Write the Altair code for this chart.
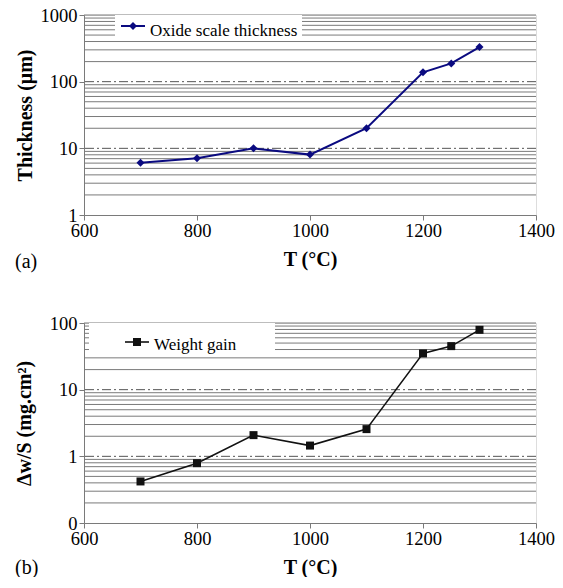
import altair as alt
import pandas as pd

temps = [700, 800, 900, 1000, 1100, 1200, 1250, 1300]
thickness = [6.1, 7.1, 10, 8.05, 20, 138, 188, 330]
weight_gain = [0.42, 0.79, 2.08, 1.45, 2.56, 35, 45, 79]

x_ticks = [600, 800, 1000, 1200, 1400]
top_major = [10, 100]
top_minor = [2, 3, 4, 5, 6, 7, 8, 9, 20, 30, 40, 50, 60, 70, 80, 90,
             200, 300, 400, 500, 600, 700, 800, 900, 1000]
top_ticks = [1, 10, 100, 1000]
bot_major = [1, 10]
bot_minor = [0.2, 0.3, 0.4, 0.5, 0.6, 0.7, 0.8, 0.9, 2, 3, 4, 5, 6, 7, 8, 9,
             20, 30, 40, 50, 60, 70, 80, 90, 100]
bot_ticks = [0.1, 1, 10, 100]

FONT = "Liberation Serif, Times New Roman, serif"
GRID = "#7a7a7a"
W, H = 452, 200

df_top = pd.DataFrame({"T": temps, "v": thickness})
df_bot = pd.DataFrame({"T": temps, "v": weight_gain})
one = pd.DataFrame({"a": [0]})

xscale = alt.Scale(domain=[600, 1400], nice=False)


def x_axis():
    return alt.Axis(values=x_ticks, title="T (°C)", grid=False, format="d",
                    tickSize=5, labelPadding=1, titlePadding=10,
                    labelFlush=False,
                    domainColor=GRID, tickColor=GRID, labelFontSize=18.5,
                    titleFontSize=20, titleFontWeight="bold",
                    labelFont=FONT, titleFont=FONT, labelColor="black",
                    titleColor="black")


def panel(df, yscale, ticks, minor, major, ytitle, tpad, labexpr, color,
          shape, lw, legend_text, box, mk_y, tx_y, panel_label, lab_y):
    yaxis = alt.Axis(values=ticks, title=ytitle, grid=False,
                     labelExpr=labexpr, tickSize=5, labelPadding=2,
                     titlePadding=tpad, domainColor=GRID, labelFlush=False,
                     tickColor=GRID, labelFontSize=18.5,
                     titleFontSize=20, titleFontWeight="bold",
                     labelFont=FONT, titleFont=FONT,
                     labelColor="black", titleColor="black")
    minor_l = alt.Chart(pd.DataFrame({"v": minor})).mark_rule(
        color=GRID, strokeWidth=1).encode(
        y=alt.Y("v:Q", scale=yscale, axis=yaxis, title=ytitle))
    major_l = alt.Chart(pd.DataFrame({"v": major})).mark_rule(
        color="#555555", strokeWidth=1, strokeDash=[9, 3, 2, 3]).encode(
        y=alt.Y("v:Q", scale=yscale, axis=yaxis, title=ytitle))
    lbox = alt.Chart(one).mark_rect(fill="white").encode(
        x=alt.value(box[0]), x2=alt.value(box[1]),
        y=alt.value(0), y2=alt.value(box[2]))
    base = alt.Chart(df).encode(
        x=alt.X("T:Q", scale=xscale, axis=x_axis(), title="T (°C)"),
        y=alt.Y("v:Q", scale=yscale, axis=yaxis, title=ytitle))
    line = base.mark_line(color=color, strokeWidth=lw)
    pts = base.mark_point(shape=shape, filled=True, size=64, color=color,
                          opacity=1)
    leg_line = alt.Chart(one).mark_rule(color=color, strokeWidth=lw).encode(
        x=alt.value(box[3] - 12), x2=alt.value(box[3] + 12),
        y=alt.value(mk_y))
    leg_pt = alt.Chart(one).mark_point(shape=shape, filled=True, size=64,
                                       color=color, opacity=1).encode(
        x=alt.value(box[3]), y=alt.value(mk_y))
    leg_txt = alt.Chart(one).mark_text(
        text=legend_text, align="left", baseline="middle", font=FONT,
        fontSize=17, color="black").encode(
        x=alt.value(box[3] + 17), y=alt.value(tx_y))
    plabel = alt.Chart(one).mark_text(
        text=panel_label, align="left", baseline="middle", font=FONT,
        fontSize=20, color="black").encode(
        x=alt.value(-69), y=alt.value(lab_y))
    return alt.layer(minor_l, major_l, lbox, line, pts, leg_line, leg_pt,
                     leg_txt, plabel).properties(width=W, height=H)


top_scale = alt.Scale(type="log", domain=[1, 1000], nice=False)
bot_scale = alt.Scale(type="log", domain=[0.1, 100], nice=False)

top = panel(df_top, top_scale, top_ticks, top_minor, top_major,
            "Thickness (μm)", 5, "format(datum.value, 'd')", "#0a0a80",
            "diamond", 2, "Oxide scale thickness", (31, 218, 25, 49), 11, 16,
            "(a)", 247)
bot = panel(df_bot, bot_scale, bot_ticks, bot_minor, bot_major,
            "Δw/S (mg.cm²)", 14.5,
            "datum.value < 0.5 ? '0' : format(datum.value, 'd')", "#111111",
            "square", 1.6, "Weight gain", (5, 191, 30, 53), 19, 22, "(b)",
            245)

chart = alt.vconcat(top, bot, spacing=108, bounds="flush").properties(
    padding={"left": 6, "top": -3, "right": 0, "bottom": -2}
).configure_view(stroke=GRID, strokeWidth=1).configure_axis(
    labelFont=FONT, titleFont=FONT
).configure(background="white")

chart.save("out.html", embed_options={"renderer": "svg", "actions": False})
